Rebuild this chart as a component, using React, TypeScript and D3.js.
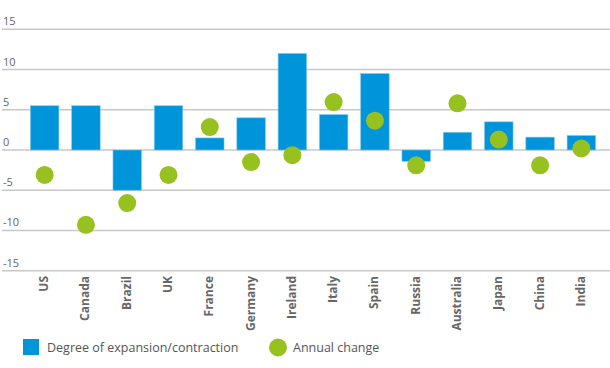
import React from "react";
import * as d3 from "d3";

const categories = ["US", "Canada", "Brazil", "UK", "France", "Germany", "Ireland", "Italy", "Spain", "Russia", "Australia", "Japan", "China", "India"];
const expansion = [5.5, 5.5, -5.0, 5.5, 1.5, 4.0, 12.0, 4.4, 9.5, -1.4, 2.2, 3.5, 1.6, 1.8];
const annualChange = [-3.1, -9.3, -6.6, -3.1, 2.85, -1.5, -0.65, 5.95, 3.65, -1.9, 5.8, 1.3, -1.9, 0.2];
const yTicks = [15, 10, 5, 0, -5, -10, -15];
const legendLabels = ["Degree of expansion/contraction", "Annual change"];

const BLUE = "#0095da";
const GREEN = "#97c11f";
const FONT = "'Open Sans', 'DejaVu Sans', sans-serif";

export default function App() {
  const W = 610, H = 368;
  const x = d3.scaleBand<string>().domain(categories).range([24, 602]).paddingInner(0.31).paddingOuter(0.155);
  const y = d3.scaleLinear().domain([-15, 15]).range([270.7, 29.3]);
  return (
    <svg width={W} height={H} style={{ position: "absolute", left: 0, top: 0, fontFamily: FONT }}>
      {yTicks.map((t) => (
        <g key={t}>
          <line x1={2} x2={610} y1={y(t)} y2={y(t)} stroke="#c8c8c8" strokeWidth={1.5} />
          <text x={3} y={y(t) - 4} fontSize={11} fill="#666">{t}</text>
        </g>
      ))}
      {categories.map((c, i) => {
        const v = expansion[i];
        const y0 = y(Math.max(0, v));
        const y1 = y(Math.min(0, v));
        return <rect key={c} x={x(c)} y={y0} width={x.bandwidth()} height={y1 - y0} fill={BLUE} stroke="#7cc8ee" strokeWidth={0.6} />;
      })}
      {categories.map((c, i) => (
        <circle key={c} cx={(x(c) as number) + x.bandwidth() / 2} cy={y(annualChange[i])} r={9} fill={GREEN} />
      ))}
      {categories.map((c) => {
        const cx = (x(c) as number) + x.bandwidth() / 2;
        return (
          <text key={c} transform={`translate(${cx + 3.5},276) rotate(-90)`} textAnchor="end" fontSize={12} fontWeight="bold" fill="#666">{c}</text>
        );
      })}
      <rect x={23} y={339} width={16} height={16} fill={BLUE} />
      <text x={47} y={352} fontSize={12.5} fill="#555">{legendLabels[0]}</text>
      <circle cx={278} cy={347.5} r={9} fill={GREEN} />
      <text x={293} y={352} fontSize={12.5} fill="#555">{legendLabels[1]}</text>
    </svg>
  );
}
